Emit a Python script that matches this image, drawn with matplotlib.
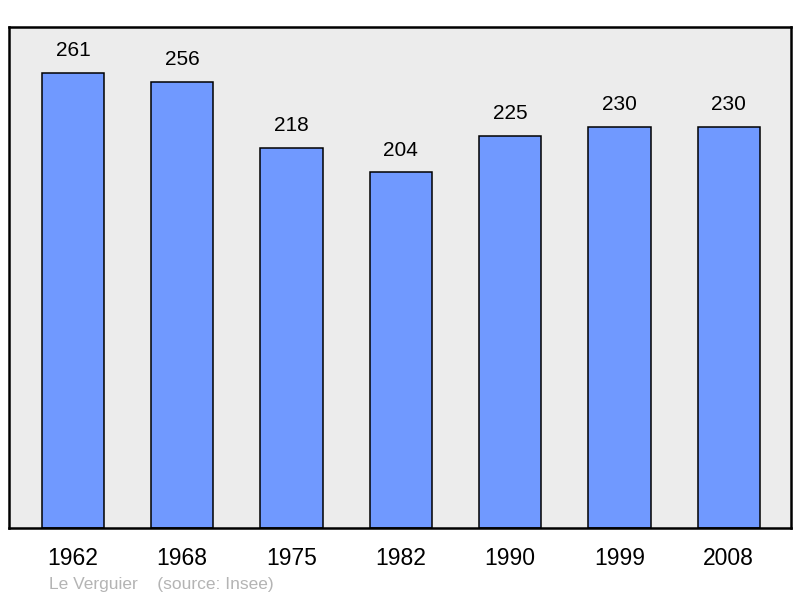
import matplotlib.pyplot as plt

plt.rcParams['font.family'] = ['Liberation Sans', 'DejaVu Sans']

years = ['1962', '1968', '1975', '1982', '1990', '1999', '2008']
population = [261, 256, 218, 204, 225, 230, 230]

fig = plt.figure(figsize=(8, 5.98), dpi=100)
ax = fig.add_axes([9 / 800, 70 / 598, 782 / 800, 501 / 598])
ax.set_facecolor('#ececec')

x = range(len(years))
bars = ax.bar(x, population, width=0.57, color='#7099ff', edgecolor='black', linewidth=1.1, zorder=2)

for xi, v in zip(x, population):
    ax.annotate(str(v), (xi, v), xytext=(0, 9), textcoords='offset points',
                ha='center', va='bottom', fontsize=15)

ax.set_xlim(-0.585, 6.57)
ax.set_ylim(0, 287.3)
ax.set_xticks(list(x))
ax.set_xticklabels(years, fontsize=16.5)
ax.tick_params(axis='x', length=0, pad=14)
ax.set_yticks([])
for s in ax.spines.values():
    s.set_linewidth(1.8)

fig.text(49 / 800, 1 - 584 / 598, 'Le Verguier    (source: Insee)', fontsize=12.5,
         color='#b4b4b4', ha='left', va='center')

fig.savefig('out.png', dpi=100)
